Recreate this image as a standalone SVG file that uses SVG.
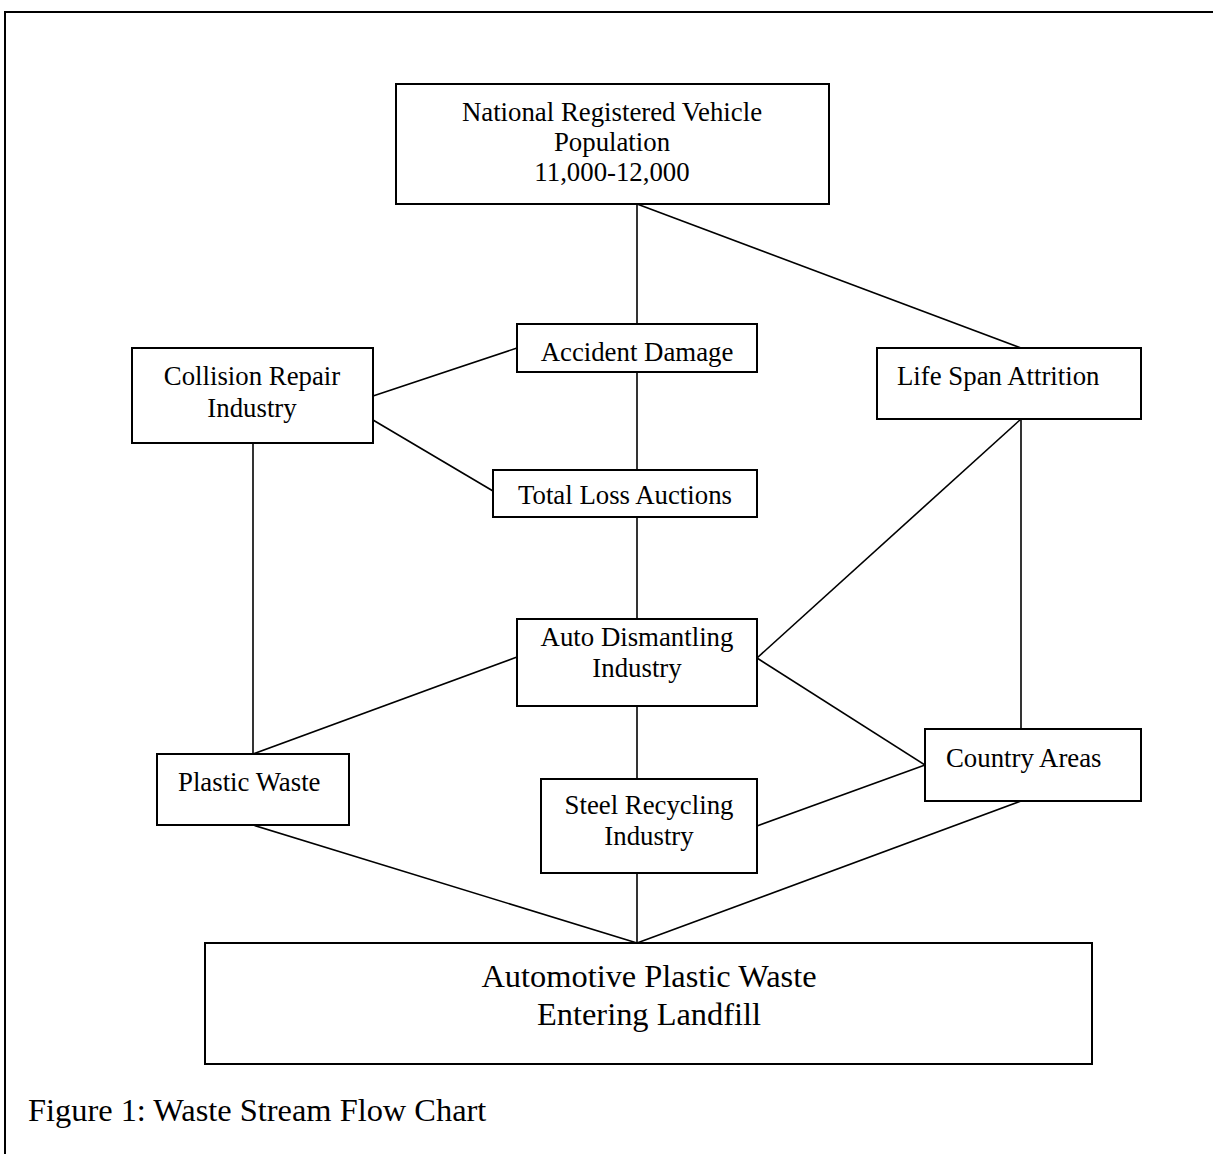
<svg xmlns="http://www.w3.org/2000/svg" width="1213" height="1154" viewBox="0 0 1213 1154">
<style>
.box{fill:#fff;stroke:#000;stroke-width:2}
.t{font-family:"Liberation Serif","Times New Roman",serif;font-size:26.8px;fill:#000}
.c{text-anchor:middle}
.big{font-size:32.4px}
#connectors line{stroke:#000;stroke-width:1.6}
</style>
<rect x="0" y="0" width="1213" height="1154" fill="#fff"/>
<path d="M5,1154 V12 H1213" fill="none" stroke="#000" stroke-width="2"/>
<g id="connectors">
<line x1="637" y1="204" x2="637" y2="324"/>
<line x1="637" y1="204" x2="1021" y2="348"/>
<line x1="373" y1="396" x2="517" y2="348"/>
<line x1="373" y1="420" x2="493" y2="491"/>
<line x1="637" y1="372" x2="637" y2="470"/>
<line x1="637" y1="517" x2="637" y2="619"/>
<line x1="253" y1="443" x2="253" y2="754"/>
<line x1="517" y1="657" x2="253" y2="754"/>
<line x1="1021" y1="419" x2="757" y2="658"/>
<line x1="1021" y1="419" x2="1021" y2="729"/>
<line x1="757" y1="658" x2="925" y2="765"/>
<line x1="757" y1="826" x2="925" y2="765"/>
<line x1="637" y1="706" x2="637" y2="779"/>
<line x1="253" y1="825" x2="637" y2="943"/>
<line x1="637" y1="873" x2="637" y2="943"/>
<line x1="1021" y1="801" x2="637" y2="943"/>
</g>
<g id="national">
<rect class="box" x="396" y="84" width="433" height="120"/>
<text class="t c" x="612" y="121">National Registered Vehicle</text>
<text class="t c" x="612" y="151">Population</text>
<text class="t c" x="612" y="181">11,000-12,000</text>
</g>
<g id="accident">
<rect class="box" x="517" y="324" width="240" height="48"/>
<text class="t c" x="637" y="361">Accident Damage</text>
</g>
<g id="collision">
<rect class="box" x="132" y="348" width="241" height="95"/>
<text class="t c" x="252" y="385">Collision Repair</text>
<text class="t c" x="252" y="417">Industry</text>
</g>
<g id="totalloss">
<rect class="box" x="493" y="470" width="264" height="47"/>
<text class="t c" x="625" y="504">Total Loss Auctions</text>
</g>
<g id="lifespan">
<rect class="box" x="877" y="348" width="264" height="71"/>
<text class="t" x="897" y="385">Life Span Attrition</text>
</g>
<g id="dismantling">
<rect class="box" x="517" y="619" width="240" height="87"/>
<text class="t c" x="637" y="646">Auto Dismantling</text>
<text class="t c" x="637" y="677">Industry</text>
</g>
<g id="plastic">
<rect class="box" x="157" y="754" width="192" height="71"/>
<text class="t" x="178" y="791">Plastic Waste</text>
</g>
<g id="steel">
<rect class="box" x="541" y="779" width="216" height="94"/>
<text class="t c" x="649" y="814">Steel Recycling</text>
<text class="t c" x="649" y="845">Industry</text>
</g>
<g id="country">
<rect class="box" x="925" y="729" width="216" height="72"/>
<text class="t" x="946" y="767">Country Areas</text>
</g>
<g id="landfill">
<rect class="box" x="205" y="943" width="887" height="121"/>
<text class="t c big" x="649" y="987">Automotive Plastic Waste</text>
<text class="t c big" x="649" y="1025">Entering Landfill</text>
</g>
<text class="t big" x="28" y="1121">Figure 1: Waste Stream Flow Chart</text>
</svg>
